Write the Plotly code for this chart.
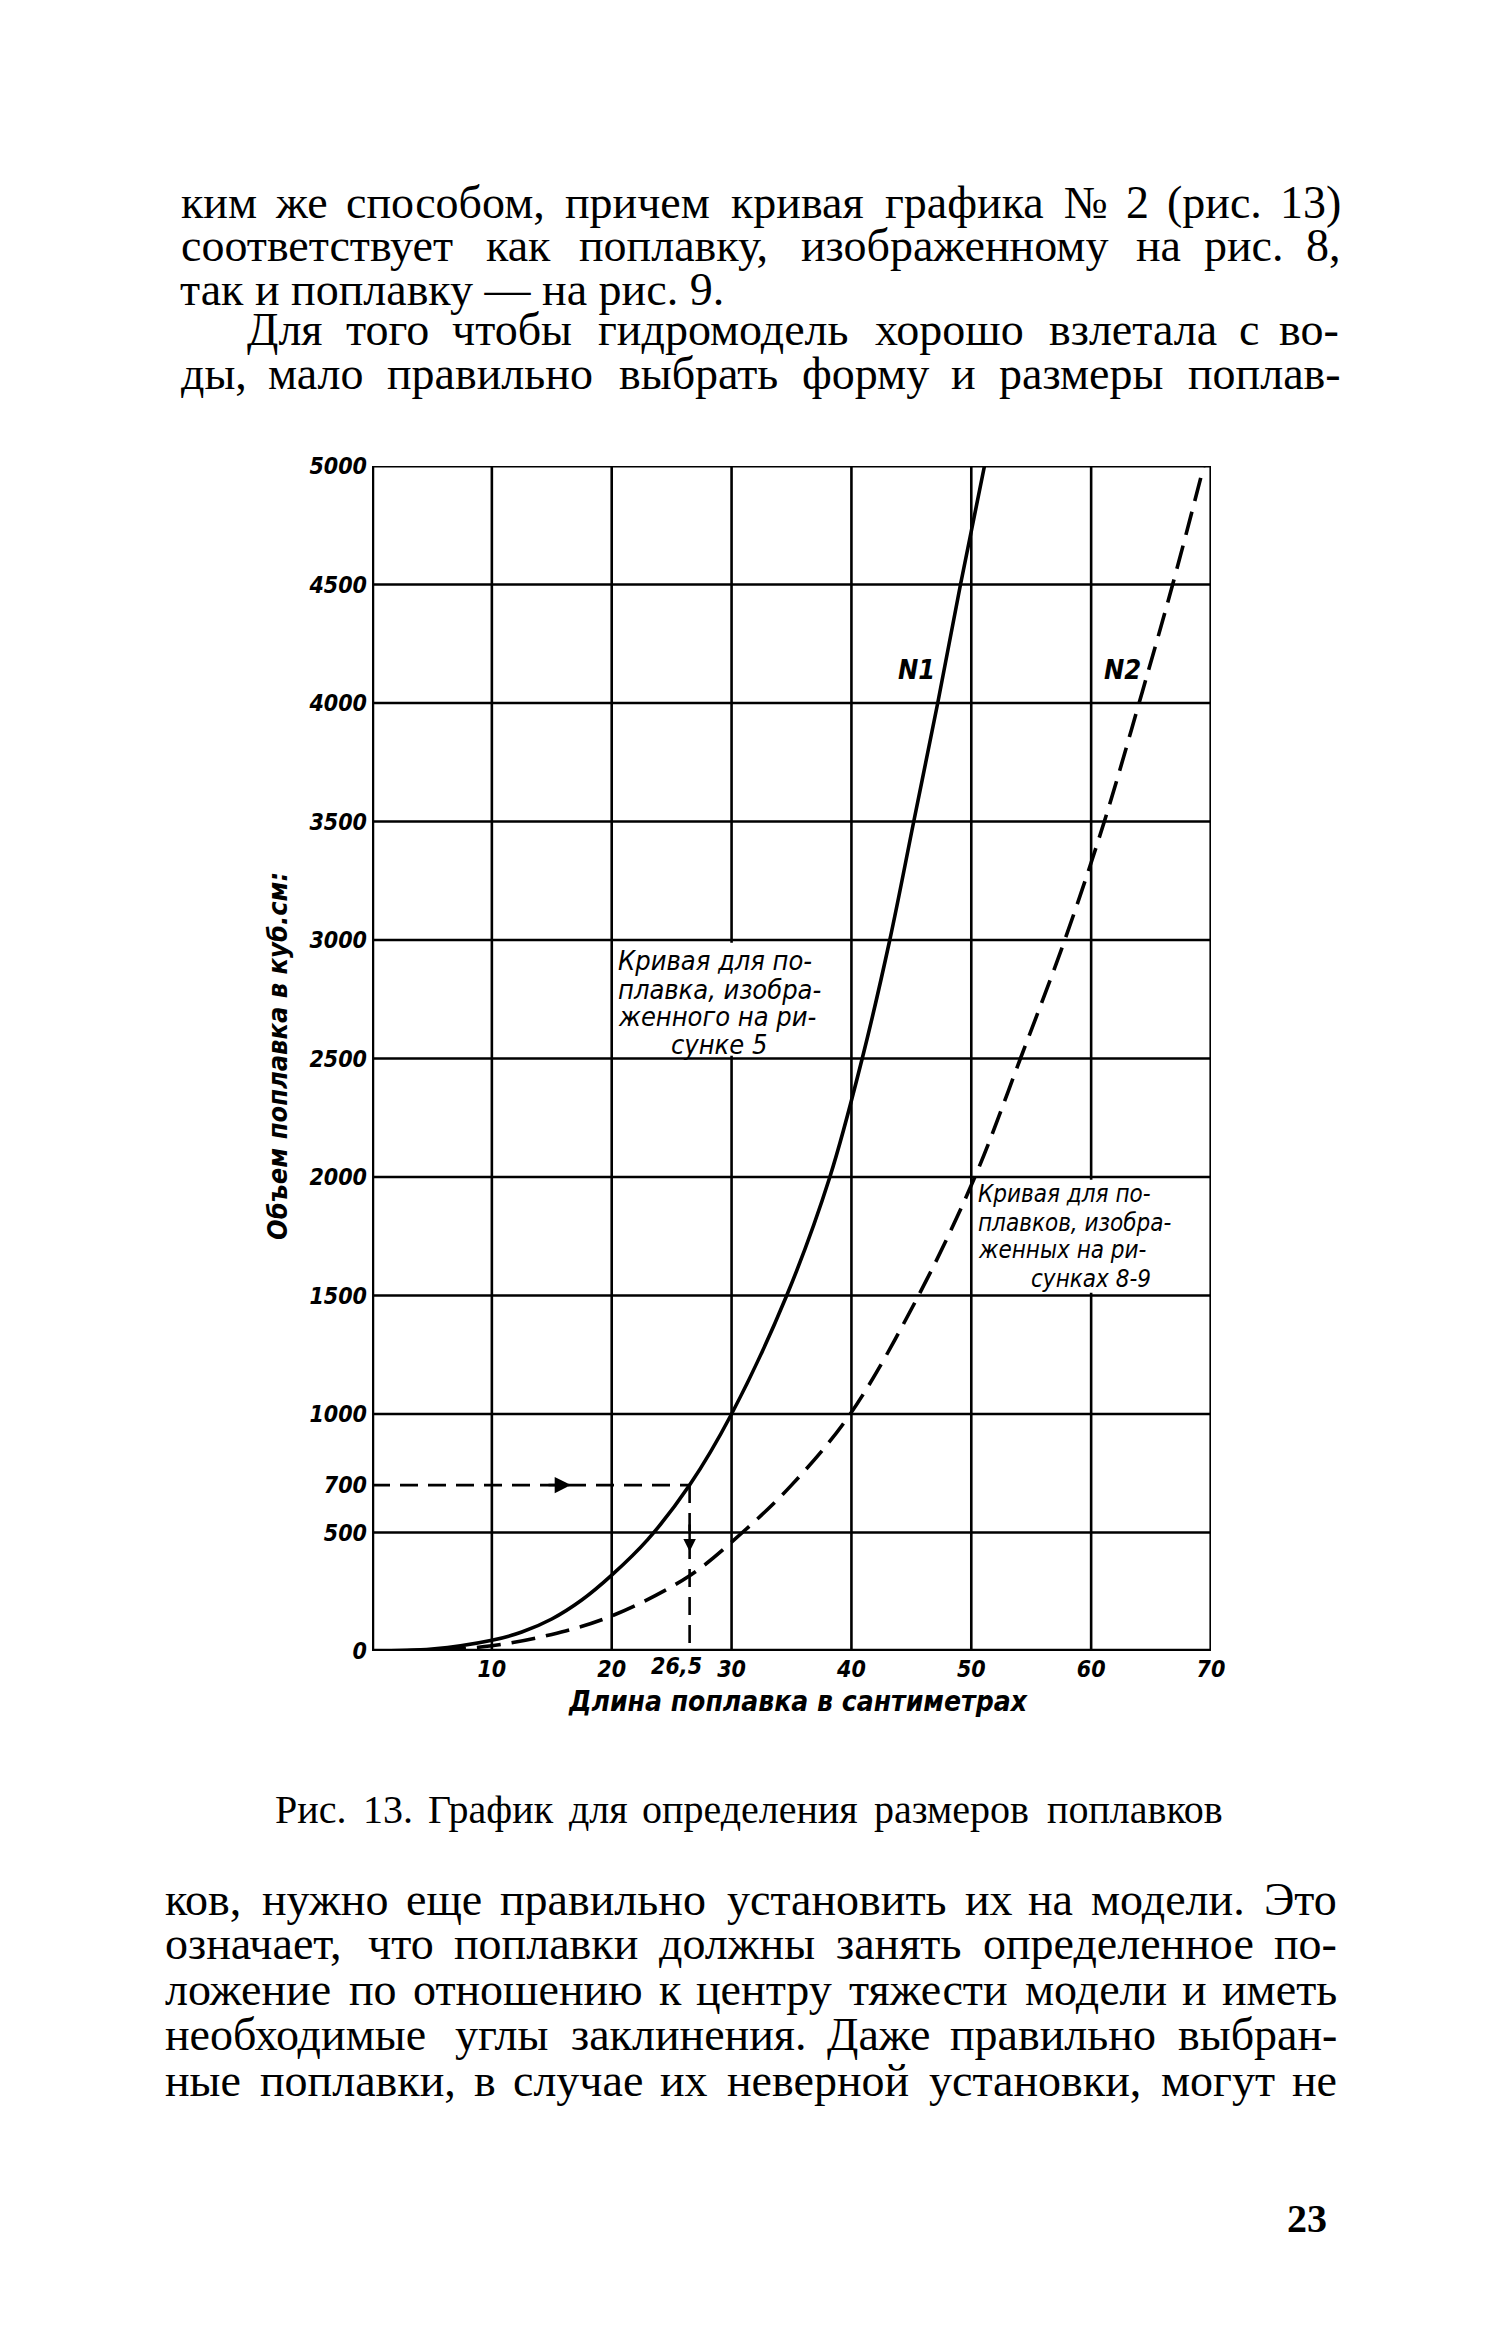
import plotly.graph_objects as go

# ---------------- data ----------------
length_n1 = [0, 5, 10, 12.5, 15, 17.5, 20, 23, 26.5, 30, 34.6, 38.2, 40.9, 43.2, 45.2, 47.2, 49.1, 51.1]
volume_n1 = [0, 8, 45, 80, 135, 215, 320, 470, 700, 1000, 1500, 2000, 2500, 3000, 3500, 4000, 4500, 5000]

length_n2 = [0, 5, 10, 15, 20, 26.5, 30.9, 35, 39.9, 45.6, 50.3, 54.1, 57.8, 61.1, 64.0, 66.8, 69.4]
volume_n2 = [0, 4, 22, 70, 148, 318, 500, 700, 1000, 1500, 2000, 2500, 3000, 3500, 4000, 4500, 5000]

example_length = 26.5
example_length_text = "26,5"
example_volume = 700

x_tick_vals = [10, 20, 30, 40, 50, 60, 70]
x_tick_text = ["10", "20", "30", "40", "50", "60", "70"]
y_tick_vals = [0, 500, 700, 1000, 1500, 2000, 2500, 3000, 3500, 4000, 4500, 5000]
y_tick_text = ["0", "500", "700", "1000", "1500", "2000", "2500", "3000", "3500", "4000", "4500", "5000"]
x_grid = [10, 20, 30, 40, 50, 60]
y_grid = [500, 1000, 1500, 2000, 2500, 3000, 3500, 4000, 4500]
x_range = [0, 70]
y_range = [0, 5000]

curve_labels = ["N1", "N2"]
note1_lines = ["Кривая для по-", "плавка, изобра-", "женного на ри-", "сунке 5"]
note2_lines = ["Кривая для по-", "плавков, изобра-", "женных на ри-", "сунках 8-9"]
y_title = "Объем поплавка в куб.см:"
x_title = "Длина поплавка в сантиметрах"
caption = "Рис. 13. График для определения размеров поплавков"
top_lines = [
    "ким же способом, причем кривая графика № 2 (рис. 13)",
    "соответствует как поплавку, изображенному на рис. 8,",
    "так и поплавку — на рис. 9.",
    "Для того чтобы гидромодель хорошо взлетала с во-",
    "ды, мало правильно выбрать форму и размеры поплав-",
]
bottom_lines = [
    "ков, нужно еще правильно установить их на модели. Это",
    "означает, что поплавки должны занять определенное по-",
    "ложение по отношению к центру тяжести модели и иметь",
    "необходимые углы заклинения. Даже правильно выбран-",
    "ные поплавки, в случае их неверной установки, могут не",
]
page_number = "23"

# ---------------- page geometry ----------------
W, H = 1500, 2350
PL, PR, PT, PB = 372, 1211, 466, 1651
CH_FONT = "DejaVu Sans Condensed, DejaVu Sans, sans-serif"
BODY_FONT = "Liberation Serif, Times New Roman, serif"


def px(x):
    return x / W


def py(y):
    return 1 - y / H


CW = {
    'а': .444, 'б': .5, 'в': .47, 'г': .41, 'д': .5, 'е': .444, 'ё': .444, 'ж': .69, 'з': .4,
    'и': .535, 'й': .535, 'к': .49, 'л': .5, 'м': .63, 'н': .535, 'о': .5, 'п': .535, 'р': .5,
    'с': .444, 'т': .44, 'у': .5, 'ф': .65, 'х': .5, 'ц': .535, 'ч': .5, 'ш': .77, 'щ': .77,
    'ъ': .5, 'ы': .68, 'ь': .46, 'э': .44, 'ю': .73, 'я': .48,
    ',': .25, '.': .25, '(': .333, ')': .333, '-': .333, '—': 1.0, '№': 1.0, ':': .278, ' ': .25,
}


def text_w(s, size):
    t = 0
    for c in s:
        if c in CW:
            t += CW[c]
        elif c.isdigit():
            t += .5
        elif c.isupper():
            t += .67
        else:
            t += .5
    return t * size * 1.03


annotations = []


def add_text(text, x, y, size, family, xanchor="center", weight="normal", style="normal",
             xref="paper", yref="paper", textangle=0):
    annotations.append(dict(
        text=text, x=x, y=y, xref=xref, yref=yref, xanchor=xanchor, yanchor="middle",
        showarrow=False, textangle=textangle, borderpad=0,
        font=dict(family=family, size=size, color="black", weight=weight, style=style),
    ))


def justify(line, left, right, ypix, size, family, weight="normal"):
    words = line.split(" ")
    widths = [text_w(w, size) for w in words]
    gap = (right - left - sum(widths)) / (len(words) - 1)
    pos = left
    for i, (w, wd) in enumerate(zip(words, widths)):
        if i == 0:
            add_text(w, px(left), py(ypix), size, family, "left", weight)
        elif i == len(words) - 1:
            add_text(w, px(right), py(ypix), size, family, "right", weight)
        else:
            add_text(w, px(pos + wd / 2), py(ypix), size, family, "center", weight)
        pos += wd + gap


BODY_SIZE = 46
top_y = [202, 246, 289, 330, 374]
for i, line in enumerate(top_lines):
    if i == 2:
        add_text(line, px(179), py(top_y[i]), BODY_SIZE, BODY_FONT, "left")
    elif i == 3:
        justify(line, 246, 1340, top_y[i], BODY_SIZE, BODY_FONT)
    else:
        justify(line, 180, 1342, top_y[i], BODY_SIZE, BODY_FONT)

bottom_y = [1899, 1944, 1989, 2034, 2080]
for i, line in enumerate(bottom_lines):
    justify(line, 164, 1338, bottom_y[i], BODY_SIZE, BODY_FONT)

justify(caption, 274, 1224, 1809, 40, BODY_FONT)
add_text(page_number, px(1307), py(2218), 40, BODY_FONT, "center", weight="bold")

# axis titles
add_text(y_title, px(277), py(1056), 27, CH_FONT, "center", "bold", "italic", textangle=-90)
add_text(x_title, px(798), py(1701), 28, CH_FONT, "center", "bold", "italic")

# extra x tick label for the worked example (drawn left of its line, as in the print)
annotations.append(dict(text=example_length_text, x=example_length, xshift=-13, y=py(1666),
                        xref="x", yref="paper", xanchor="center", yanchor="middle", showarrow=False,
                        font=dict(family=CH_FONT, size=23, color="black", weight="bold", style="italic")))

# curve labels
add_text(curve_labels[0], 45.4, 4140, 27, CH_FONT, "center", "bold", "italic", "x", "y")
add_text(curve_labels[1], 62.6, 4140, 27, CH_FONT, "center", "bold", "italic", "x", "y")

# notes in the grid cells
note1_y = [2913, 2793, 2679, 2561]
for i, t in enumerate(note1_lines):
    add_text(t, 20.4 if i < 3 else 24.85, note1_y[i], 27, CH_FONT, "left", "normal", "italic", "x", "y")
note2_y = [1928, 1808, 1690, 1570]
for i, t in enumerate(note2_lines):
    add_text(t, 50.45 if i < 3 else 54.9, note2_y[i], 24, CH_FONT, "left", "normal", "italic", "x", "y")

# arrows on the example reading line
annotations.append(dict(x=16.6, y=example_volume, ax=14.6, ay=example_volume, xref="x", yref="y",
                        axref="x", ayref="y", showarrow=True, arrowhead=2, arrowsize=1.3,
                        arrowwidth=2.5, arrowcolor="black", text=""))
annotations.append(dict(x=example_length, y=420, ax=example_length, ay=540, xref="x", yref="y",
                        axref="x", ayref="y", showarrow=True, arrowhead=2, arrowsize=1.0,
                        arrowwidth=2.5, arrowcolor="black", text=""))

# ---------------- shapes: grid, note backgrounds, border ----------------
shapes = []
for gx in x_grid:
    shapes.append(dict(type="line", xref="x", yref="y", x0=gx, x1=gx, y0=y_range[0], y1=y_range[1],
                       line=dict(color="black", width=2.6), layer="below"))
for gy in y_grid:
    shapes.append(dict(type="line", xref="x", yref="y", x0=x_range[0], x1=x_range[1], y0=gy, y1=gy,
                       line=dict(color="black", width=2.6), layer="below"))
shapes.append(dict(type="rect", xref="x", yref="y", x0=20.25, x1=39.75, y0=2512, y1=2988,
                   fillcolor="white", line=dict(width=0), layer="below"))
shapes.append(dict(type="rect", xref="x", yref="y", x0=50.25, x1=69.75, y0=1512, y1=1988,
                   fillcolor="white", line=dict(width=0), layer="below"))
# frame
shapes.append(dict(type="line", xref="x", yref="y", x0=x_range[0], x1=x_range[0], y0=y_range[0], y1=y_range[1],
                   line=dict(color="black", width=4.5), layer="above"))
shapes.append(dict(type="line", xref="x", yref="y", x0=x_range[0], x1=x_range[1], y0=y_range[0], y1=y_range[0],
                   line=dict(color="black", width=4.5), layer="above"))
shapes.append(dict(type="line", xref="x", yref="y", x0=x_range[0], x1=x_range[1], y0=y_range[1], y1=y_range[1],
                   line=dict(color="black", width=3), layer="above"))
shapes.append(dict(type="line", xref="x", yref="y", x0=x_range[1], x1=x_range[1], y0=y_range[0], y1=y_range[1],
                   line=dict(color="black", width=3.2), layer="above"))

# ---------------- traces ----------------
fig = go.Figure()
fig.add_trace(go.Scatter(x=length_n1, y=volume_n1, mode="lines", name="N1",
                         line=dict(color="black", width=3.6, shape="spline", smoothing=1.0)))
fig.add_trace(go.Scatter(x=length_n2, y=volume_n2, mode="lines", name="N2",
                         line=dict(color="black", width=3.6, shape="spline", smoothing=1.0,
                                   dash="24px,11px")))
fig.add_trace(go.Scatter(x=[x_range[0], example_length], y=[example_volume, example_volume], mode="lines",
                         line=dict(color="black", width=2.6, dash="18px,10px")))
fig.add_trace(go.Scatter(x=[example_length, example_length], y=[example_volume, y_range[0]], mode="lines",
                         line=dict(color="black", width=2.6, dash="18px,10px")))

tick_font = dict(family=CH_FONT, size=23, color="black", weight="bold", style="italic")
fig.update_layout(
    width=W, height=H, margin=dict(l=0, r=0, t=0, b=0, autoexpand=False), autosize=False,
    paper_bgcolor="white", plot_bgcolor="white", showlegend=False,
    xaxis=dict(domain=[PL / W, PR / W], range=x_range, showgrid=False, zeroline=False, showline=False,
               tickvals=x_tick_vals, ticktext=x_tick_text, ticks="", tickfont=tick_font, tickangle=0,
               ticklabelstandoff=2, fixedrange=True, automargin=False),
    yaxis=dict(domain=[1 - PB / H, 1 - PT / H], range=y_range, showgrid=False, zeroline=False, showline=False,
               tickvals=y_tick_vals, ticktext=y_tick_text, ticks="", tickfont=tick_font, tickangle=0,
               ticklabelstandoff=4, fixedrange=True, automargin=False),
    shapes=shapes, annotations=annotations,
)

fig.write_html(
    "out.html",
    config={"displayModeBar": False, "responsive": False},
    post_script="document.body.style.margin='0';document.body.style.padding='0';"
                "document.documentElement.style.overflow='hidden';document.body.style.overflow='hidden';",
)
